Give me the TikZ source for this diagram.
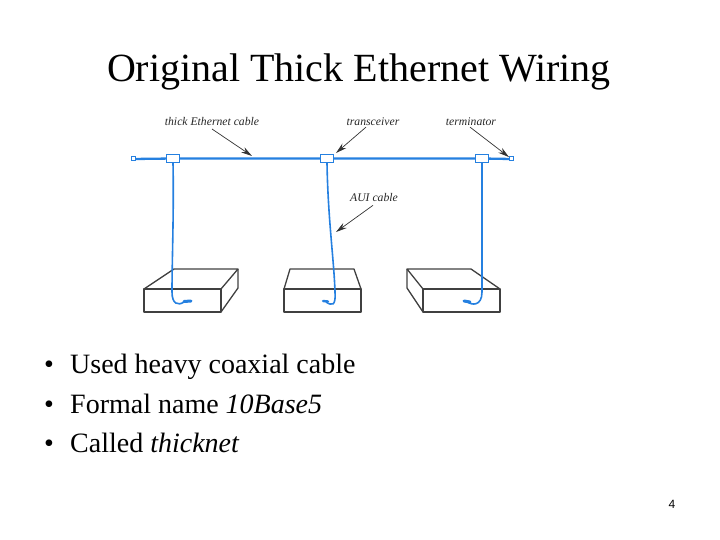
\documentclass[tikz,border=0pt]{standalone}
\usepackage{fontspec}
\setmainfont{Liberation Serif}
\setsansfont{Liberation Sans}
\usetikzlibrary{arrows.meta}
\definecolor{cableblue}{HTML}{2580E0}
\tikzset{
    cable/.style={cableblue,line width=1.6pt},
    taplabel/.style={font=\fontsize{11.7}{14}\selectfont\itshape,inner sep=0pt,text=black!85},
    tapbox/.style={draw=cableblue,line width=1.3pt,fill=white,minimum width=13pt,minimum height=8pt,inner sep=0pt},
    termbox/.style={draw=cableblue,line width=1pt,fill=white,minimum size=4pt,inner sep=0pt},
    callout/.style={black!80,line width=0.7pt,-{Stealth[length=11pt,width=6pt]}},
    hostbox/.style={black!75,line width=1.3pt,line join=round},
    bullettext/.style={font=\fontsize{28}{32}\selectfont,anchor=base west,inner sep=0pt}
}
\begin{document}
\begin{tikzpicture}[x=1pt,y=-1pt]
    \useasboundingbox (0,0) rectangle (720,540);
    \node[font=\fontsize{40}{46}\selectfont,inner sep=0pt] (title) at (359,72) {Original Thick Ethernet Wiring};
    %% computers
    \draw[hostbox] (144,289) rectangle (221,312);
    \draw[hostbox] (144,289) -- (174,269) -- (238,269) -- (221,289);
    \draw[hostbox] (238,269) -- (238,288) -- (221,312);
    \draw[hostbox] (284,289) rectangle (361,312);
    \draw[hostbox] (284,289) -- (290,269) -- (354,269) -- (361,289);
    \draw[hostbox] (423,289) rectangle (500,312);
    \draw[hostbox] (423,289) -- (407,269) -- (471,269) -- (500,289);
    \draw[hostbox] (407,269) -- (407,288) -- (423,312);
    %% transceivers and terminators
    \node[tapbox] (tapA) at (173,158.5) {};
    \node[tapbox] (tapB) at (327,158.5) {};
    \node[tapbox] (tapC) at (482,158.5) {};
    \node[termbox] (termL) at (133,159) {};
    \node[termbox] (termR) at (511.5,159) {};
    %% thick cable
    \draw[cable,line width=2.3pt] (termL) -- (tapA) -- (tapB) -- (tapC) -- (termR);
    \node[tapbox] at (tapA) {};
    \node[tapbox] at (tapB) {};
    \node[tapbox] at (tapC) {};
    %% AUI cables
    \coordinate (plugA) at (191,301);
    \coordinate (plugB) at (323,301);
    \coordinate (plugC) at (464,301);
    \draw[cable] (tapA.south) .. controls (174,210) and (172,260) .. (172,292) .. controls (172,304) and (178,306) .. (184,302);
    \draw[cable] (tapB.south) .. controls (328,220) and (334,260) .. (335,292) .. controls (336,306) and (332,306) .. (326,302);
    \draw[cable] (tapC.south) .. controls (482,220) and (482,260) .. (482,292) .. controls (482,306) and (472,306) .. (466,301);
    \draw[cable,line width=3pt,line cap=round] (184,301.5) -- (plugA);
    \draw[cable,line width=2.4pt,line cap=round] (328,301.5) -- (plugB);
    \draw[cable,line width=3pt,line cap=round] (470,302) -- (plugC);
    %% labels
    \node[taplabel] (lblcable) at (212,122) {thick Ethernet cable};
    \node[taplabel] (lbltrans) at (373,122) {transceiver};
    \node[taplabel] (lblterm) at (471,122) {terminator};
    \node[taplabel] (lblaui) at (374,198) {AUI cable};
    \coordinate (ptcable) at (252,156);
    \coordinate (pttrans) at (336,153);
    \coordinate (ptaui) at (336,232);
    \draw[callout] (212,129) -- (ptcable);
    \draw[callout] (lbltrans.south) ++(-7,1) -- (pttrans);
    \draw[callout] (lblterm.south) ++(-1,1) -- (termR);
    \draw[callout] (lblaui.south) ++(-1,3) -- (ptaui);
    %% bullets
    \node[bullettext] (itemA) at (70,373) {Used heavy coaxial cable};
    \node[bullettext] (itemB) at (70,413) {Formal name \textit{10Base5}};
    \node[bullettext] (itemC) at (70,452) {Called \textit{thicknet}};
    \foreach \n in {itemA,itemB,itemC}
        \node[font=\fontsize{28}{32}\selectfont,anchor=base,inner sep=0pt] at ([xshift=-21pt]\n.base west) {•};
    \node[font=\sffamily\fontsize{12}{14}\selectfont,inner sep=0pt] (pagenum) at (672,504) {4};
\end{tikzpicture}
\end{document}
